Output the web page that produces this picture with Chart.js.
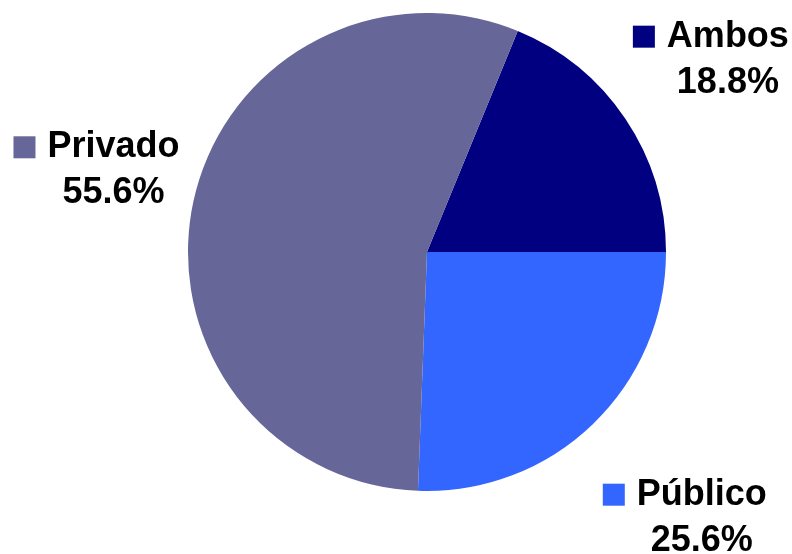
<!DOCTYPE html>
<html>
<head>
<meta charset="utf-8">
<script src="https://cdn.jsdelivr.net/npm/chart.js@4/dist/chart.umd.min.js"></script>
<style>
  html, body { margin: 0; padding: 0; background: #fff; }
  #wrap { width: 792px; height: 554px; }
</style>
</head>
<body>
<div id="wrap"><canvas id="pie-chart"></canvas></div>
<script>
const categories = ['Ambos', 'Público', 'Privado']
const values = [18.8, 25.6, 55.6]
const colors = ['#000080', '#3366FF', '#666699']

// distance of each label block from the centre, in radii
const labelDist = [1.43, 1.555, 1.415]

const total = values.reduce((a, b) => a + b, 0)

const outsideLabels = {
    id: 'outsideLabels',
    afterDraw(chart) {
        const ctx = chart.ctx
        const meta = chart.getDatasetMeta(0)
        ctx.save()
        ctx.font = 'bold 36px "Liberation Sans", Arial, sans-serif'
        ctx.textBaseline = 'alphabetic'
        meta.data.forEach((arc, i) => {
            const mid = (arc.startAngle + arc.endAngle) / 2
            const d = arc.outerRadius * labelDist[i]
            const cx = arc.x + Math.cos(mid) * d
            const cy = arc.y + Math.sin(mid) * d

            const name = categories[i]
            const pct = values[i].toFixed(1) + '%'
            const nameW = ctx.measureText(name).width
            const sq = 22, gap = 12
            const blockW = sq + gap + nameW
            const left = cx - blockW / 2
            // Privado sits a little higher in the original
            const base1 = cy - 15 - (Math.cos(mid) < 0 ? 8 : 0)
            const base2 = base1 + 46

            ctx.fillStyle = colors[i]
            ctx.fillRect(left, base1 - sq + 1, sq, sq)

            ctx.fillStyle = '#000'
            ctx.textAlign = 'left'
            ctx.fillText(name, left + sq + gap, base1)
            ctx.textAlign = 'center'
            ctx.fillText(pct, left + sq + gap + nameW / 2, base2)
        })
        ctx.restore()
    }
}

const config = {
    type: 'pie',
    data: {
        labels: categories,
        datasets: [{
            data: values,
            backgroundColor: colors,
            borderWidth: 0,
        }]
    },
    options: {
        responsive: true,
        maintainAspectRatio: false,
        animation: false,
        rotation: 90 - values[0] / total * 360,
        layout: {
            padding: { top: 13, bottom: 63, left: 188, right: 126 }
        },
        plugins: {
            legend: { display: false },
            tooltip: { enabled: false },
        }
    },
    plugins: [outsideLabels]
}

const pieChart = new Chart(document.getElementById('pie-chart'), config)
</script>
</body>
</html>
